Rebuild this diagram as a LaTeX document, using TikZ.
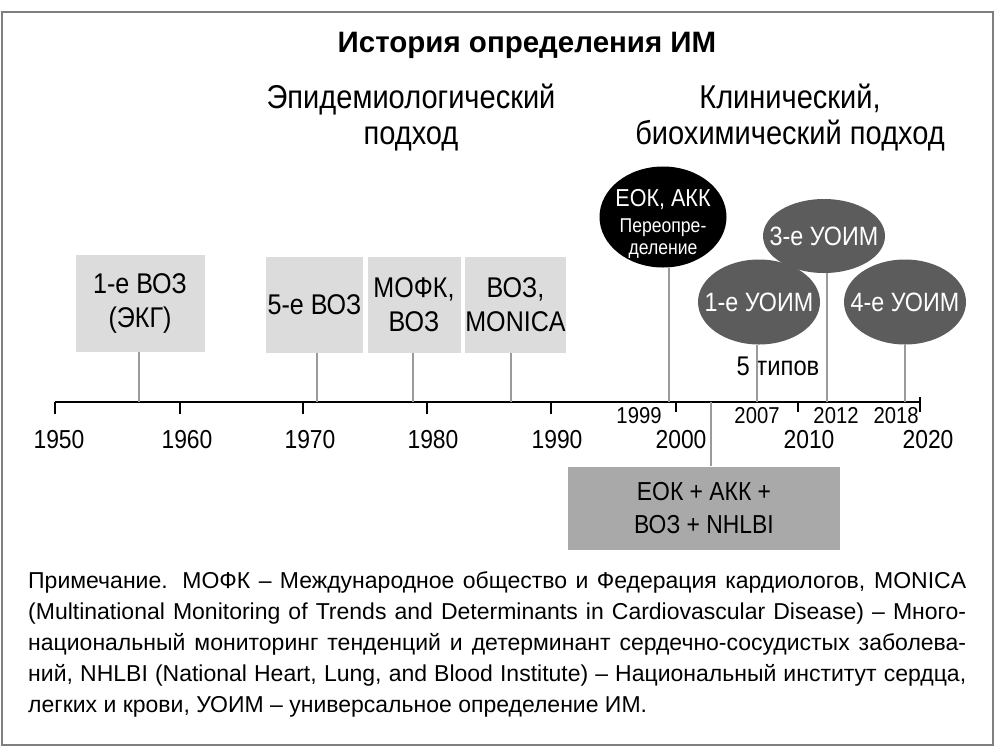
\documentclass[tikz,border=0pt]{standalone}
\usepackage{fontspec}
\setmainfont[FakeStretch=0.88]{Liberation Sans}
\newfontfamily\titlefont{Liberation Sans}
\newfontfamily\notefont{Liberation Sans}
\usepackage{xcolor}
\usetikzlibrary{positioning, shapes.geometric}
\definecolor{boxgray}{HTML}{DCDCDC}
\definecolor{ellgray}{HTML}{5C5C5C}
\definecolor{jointgray}{HTML}{A9A9A9}
\definecolor{stemgray}{HTML}{9A9A9A}
\definecolor{framegray}{HTML}{7F7F7F}

\begin{document}
\begin{tikzpicture}[x=1pt, y=-1pt,
	whobox/.style={fill=boxgray, inner sep=0pt, align=center, font=\fontsize{28.5}{34}\selectfont},
	uoim/.style={ellipse, fill=ellgray, text=white, inner sep=0pt, minimum width=122, minimum height=85, font=\fontsize{26.5}{30}\selectfont},
	stem/.style={stemgray, line width=1.6},
	decade/.style={font=\fontsize{26}{30}\selectfont},
	yearlbl/.style={font=\fontsize{23}{26}\selectfont}]
	\useasboundingbox (0,0) rectangle (995,748);
	\draw [framegray, line width=1.5](2,12) rectangle (993,745);

	\node (title) at (527,45) {\titlefont\fontsize{29.5}{34}\selectfont\bfseries История определения ИМ};
	\node[align=center, font=\fontsize{33}{36}\selectfont] (epid) at (411,118) {Эпидемиологический\\подход};
	\node[align=center, font=\fontsize{33}{36}\selectfont] (clin) at (790,118) {Клинический,\\биохимический подход};

	% axis with decade ticks
	\draw [line width=2.2](55,402) -- (920,402);
	\draw [line width=1.5](55,402) -- (55,414) (180,402) -- (180,414) (303,402) -- (303,414) (427,402) -- (427,414) (551,402) -- (551,414);
	\draw [line width=1.5](676,402) -- (676,412) (798,402) -- (798,412) (920,397) -- (920,412);
	\node[decade] (d1950) at (59,440) {1950};
	\node[decade] (d1960) at (187,440) {1960};
	\node[decade] (d1970) at (310,440) {1970};
	\node[decade] (d1980) at (433,440) {1980};
	\node[decade] (d1990) at (557,440) {1990};
	\node[decade] (d2000) at (681,440) {2000};
	\node[decade] (d2010) at (809,440) {2010};
	\node[decade] (d2020) at (928,440) {2020};
	\node[yearlbl] (y1999) at (639,416) {1999};
	\node[yearlbl] (y2007) at (757,416) {2007};
	\node[yearlbl] (y2012) at (836,416) {2012};
	\node[yearlbl] (y2018) at (896,416) {2018};

	\coordinate (t1957) at (139,402);
	\coordinate (t1971) at (317,402);
	\coordinate (t1979) at (413,402);
	\coordinate (t1987) at (511,402);
	\coordinate (t1999) at (669,402);
	\coordinate (t2002) at (711,402);
	\coordinate (t2007) at (757,402);
	\coordinate (t2012) at (827,402);
	\coordinate (t2018) at (905,402);

	\node[whobox, minimum width=129, minimum height=97] (who1) at (140,303) {1-е ВОЗ\\(ЭКГ)};
	\node[whobox, minimum width=97, minimum height=96] (who5) at (314.5,305) {5-е ВОЗ};
	\node[whobox, minimum width=93, minimum height=96] (isfc) at (414,305) {МОФК,\\ВОЗ};
	\node[whobox, minimum width=101, minimum height=96] (monica) at (515.5,305) {ВОЗ,\\MONICA};

	\node[ellipse, fill=black, inner sep=0pt, minimum width=127, minimum height=101] (escacc) at (663,217) {};
	\node[text=white, align=center, font=\fontsize{20}{22}\selectfont] (escacctxt) at (663,224) {{\fontsize{24.5}{28}\selectfont ЕОК, АКК}\\[4pt]Переопре-\\деление};
	\node[uoim] (uoim1) at (759,302) {\makebox[0pt]{1-е УОИМ}};
	\node[uoim, minimum height=74] (uoim3) at (824,236) {\makebox[0pt]{3-е УОИМ}};
	\node[uoim] (uoim4) at (905,302) {\makebox[0pt]{4-е УОИМ}};
	\node[font=\fontsize{27}{30}\selectfont] (types) at (778,366) {5 типов};

	\node[fill=jointgray, inner sep=0pt, minimum width=272, minimum height=83, align=center, font=\fontsize{26}{33}\selectfont] (joint) at (704,508) {ЕОК + АКК +\\ВОЗ + NHLBI};

	\draw [stem](t1957) -- (t1957 |- who1.south);
	\draw [stem](t1971) -- (t1971 |- who5.south);
	\draw [stem](t1979) -- (t1979 |- isfc.south);
	\draw [stem](t1987) -- (t1987 |- monica.south);
	\draw [stem](t1999) -- (t1999 |- escacc.south);
	\draw [stem](t2007) -- (t2007 |- uoim1.south);
	\draw [stem](t2012) -- (t2012 |- uoim3.south);
	\draw [stem](t2018) -- (t2018 |- uoim4.south);
	\draw [stem](t2002) -- (t2002 |- joint.north);

	\node[anchor=north west, inner sep=0pt, text width=938, align=justify, font=\notefont\fontsize{23}{31}\selectfont] (note) at (28,571) {Примечание. МОФК – Международное общество и Федерация кардиологов, MONICA\linebreak
	(Multinational Monitoring of Trends and Determinants in Cardiovascular Disease) – Много-\linebreak
	национальный мониторинг тенденций и детерминант сердечно-сосудистых заболева-\linebreak
	ний, NHLBI (National Heart, Lung, and Blood Institute) – Национальный институт сердца,\linebreak
	легких и крови, УОИМ – универсальное определение ИМ.};
\end{tikzpicture}
\end{document}
